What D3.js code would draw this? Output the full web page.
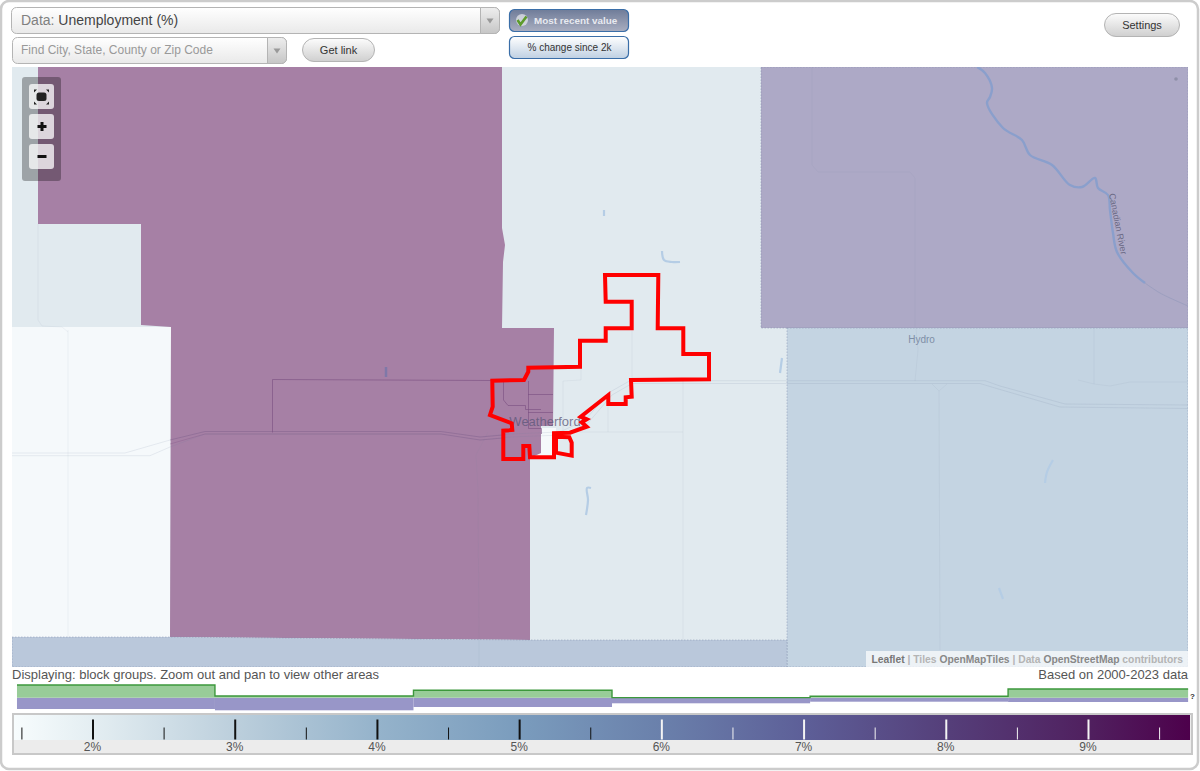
<!DOCTYPE html>
<html>
<head>
<meta charset="utf-8">
<title>Unemployment (%)</title>
<script src="https://cdn.jsdelivr.net/npm/d3@7"></script>
<style>
    html, body { margin: 0; padding: 0; background: #fff; }
    svg { display: block; }
    text { font-family: "Liberation Sans", Arial, sans-serif; }
</style>
</head>
<body>
<div id="chart"></div>
<script>
// legend colour ramp
const rampValues = [1.45, 2, 3, 4, 5, 6, 7, 8, 9, 9.73];
const rampColors = ["#f7fcfd", "#e4eef2", "#bccfdc", "#95b3cb", "#7a9cbd", "#6a80ab", "#5d5f98", "#553f7a", "#50205f", "#4d004b"];

const majorTicks = [2, 3, 4, 5, 6, 7, 8, 9];
const minorTicks = [1.5, 2.5, 3.5, 4.5, 5.5, 6.5, 7.5, 8.5, 9.5];

// distribution strip above the legend
const binEdges = [1.469, 2.861, 4.257, 5.653, 7.046, 8.438, 9.704];
const greenBins = [12.7, 1.7, 7.4, 0.1, 1.4, 8.7];
const purpleBins = [11.3, 12.6, 9.3, 5.6, 4.0, 4.3];

// block groups: unemployment % and outline in map grid units
const purpleValue = 9.73, lightValue = 2.85, whiteValue = 1.8, lavenderValue = 7.4, blueValue = 4.45, southValue = 5.4;
const lightArea = [[12, 67], [1188, 67], [1188, 667], [12, 667]];
const whiteArea = [[12, 327], [171, 327], [170, 637], [12, 637]];
const whitePatch = [[541, 428], [556, 428], [555, 457], [530, 458], [541, 453]];
const purpleArea = [[38, 67], [502, 67], [502, 228], [505, 245], [503, 262], [502, 328], [554, 328], [553, 426], [541, 426], [541, 453], [530, 458], [530, 640], [170, 637], [171, 327], [141, 325], [141, 224], [38, 224]];
const lavenderArea = [[761, 67], [1188, 67], [1188, 328], [761, 328]];
const blueArea = [[787, 328], [1188, 328], [1188, 667], [787, 667]];
const southArea = [[12, 637], [170, 637], [530, 640], [787, 640], [787, 667], [12, 667]];

const cityOutline = [[605, 275], [658.3, 275], [657.7, 328.3], [683.3, 328.3], [683.3, 354], [709, 354], [709, 379.3], [631, 380], [631.7, 396.7], [625.7, 397.3], [625.7, 404], [608.3, 404], [608.3, 395], [580.7, 416.7], [586.7, 419.3], [581.7, 422.3], [586.7, 426.7], [570, 432.7], [554, 433.3], [554, 457.3], [530, 457.3], [529.3, 446], [523.3, 446], [523.3, 459], [503.3, 459], [503.3, 430.7], [512.3, 430], [511.7, 423.3], [490, 415], [492.7, 406.7], [492.3, 380.7], [524, 380], [528.3, 371.7], [528.3, 367.7], [580, 366.7], [580, 340.7], [605.7, 340.7], [605.7, 328.3], [631.7, 328.3], [631.7, 301.7], [605.7, 301.7]];
const cityOutlineSouth = [[556, 436.7], [569.3, 437.3], [571.7, 442.7], [571.7, 455.7], [556, 452.7]];

// basemap lines
const blockLines = [
    [[272.5, 432.5], [272.5, 379.5], [491, 380.5]],
    [[503.5, 381], [503.5, 400], [508, 405.5], [525.5, 405.5], [525.5, 409.5], [541, 409.5]],
    [[528.5, 381], [528.5, 428.5], [541.5, 428.5], [541.5, 434]],
    [[528, 394.5], [553, 394.5]],
    [[528, 412.5], [553, 412.5]]
];
const highwayNorth = [[12, 453], [125, 453], [170, 440], [205, 431.5], [441, 431.5], [480, 437], [510, 434], [560, 432], [585, 420], [610, 392], [630, 380.7], [985, 380.7], [1000, 386], [1065, 404], [1188, 405]];
const highwaySouth = [[12, 455.7], [150, 455.7], [170, 447], [205, 434], [441, 434], [480, 440], [510, 437], [562, 435], [588, 423], [612, 395], [632, 383.5], [980, 383.5], [995, 388], [1060, 407], [1188, 408.5]];
const highwayPurpleNorth = [[170, 440], [205, 431.5], [441, 431.5], [480, 437], [503, 435]];
const highwayPurpleSouth = [[170, 444], [205, 434], [441, 434], [480, 440], [503, 438]];
const minorRoads = [
    [[68, 330], [68, 637]],
    [[38, 224], [38, 320], [42, 326], [62, 327], [68, 332]],
    [[488, 432], [476, 455], [478, 490], [479, 640], [479, 667]],
    [[812, 67], [812, 165], [818, 172], [910, 172], [915, 178], [915, 327]],
    [[916, 328], [918, 350], [915, 381]],
    [[932, 384], [939, 391], [947, 384]],
    [[939, 391], [940, 650]],
    [[1094, 328], [1094, 384]],
    [[1078, 380], [1094, 384], [1110, 386], [1130, 382], [1188, 382]],
    [[683, 381], [683, 640]],
    [[580, 432], [683, 432]],
    [[608, 404], [608, 432]],
    [[632, 300], [632, 380]],
    [[581, 367], [581, 380], [563, 381], [563, 430]]
];

const canadianRiver = [[977, 67], [985, 73], [992, 88], [990, 97], [987, 103], [1003, 128], [1022, 140], [1030, 155], [1052, 165], [1070, 185], [1082, 187], [1095, 178], [1098, 188], [1108, 195], [1110, 210], [1113, 233], [1117, 252], [1133, 273], [1145, 283]];
const riverTail = [[1145, 283], [1160, 293], [1188, 306]];
const riverLabelPath = [[1109, 194], [1113, 215], [1124, 270]];
const lakes = [
    [[1053, 460], [1047, 472], [1045, 483]],
    [[999, 588], [1003, 599]],
    [[782, 358], [780, 373]],
    [[591, 488], [587, 488], [588, 500], [586, 515]],
    [[604, 210], [604, 216]],
    [[662, 251], [664, 260], [672, 262], [680, 262]]
];
const pondInPurple = [[386, 367], [386, 377]];

const width = 1200, height = 771;

const svg = d3.select("#chart").append("svg")
    .attr("width", width)
    .attr("height", height);

const defs = svg.append("defs");

function addGradient(id, top, bottom) {
    const g = defs.append("linearGradient").attr("id", id).attr("x1", 0).attr("y1", 0).attr("x2", 0).attr("y2", 1);
    g.append("stop").attr("offset", "0%").attr("stop-color", top);
    g.append("stop").attr("offset", "100%").attr("stop-color", bottom);
}
addGradient("inputFill", "#ffffff", "#e9e9e9");
addGradient("arrowFill", "#eeeeee", "#c6c6c6");
addGradient("pillFill", "#fcfcfc", "#cfcfcf");
addGradient("activeFill", "#6f7c99", "#a9aec0");
addGradient("changeFill", "#ffffff", "#bfd0e2");

defs.append("clipPath").attr("id", "mapClip")
    .append("rect").attr("x", 12).attr("y", 67).attr("width", 1176).attr("height", 600);

// scales
const legendX = d3.scaleLinear().domain([2, 9]).range([92.5, 1088]);
const color = d3.scaleLinear().domain(rampValues).range(rampColors);
const mapX = d3.scaleLinear().domain([12, 1188]).range([12, 1188]);
const mapY = d3.scaleLinear().domain([67, 667]).range([67, 667]);
const stripY = d3.scaleLinear().domain([-13, 13]).range([710.7, 684.7]);

// regions sit at half strength over the pale base map
const shade = v => d3.interpolateRgb(color(v), "#ffffff")(0.5);

const mapLine = d3.line().x(d => mapX(d[0])).y(d => mapY(d[1]));
const closed = d3.line().x(d => mapX(d[0])).y(d => mapY(d[1])).curve(d3.curveLinearClosed);
const waterLine = d3.line().x(d => mapX(d[0])).y(d => mapY(d[1])).curve(d3.curveCatmullRom);

// outer frame
svg.append("rect")
    .attr("x", 1).attr("y", 1).attr("width", 1197).attr("height", 768).attr("rx", 8)
    .attr("fill", "#fff").attr("stroke", "#cccccc").attr("stroke-width", 2.5);

// map
const map = svg.append("g").attr("clip-path", "url(#mapClip)");

const regions = [
    {shape: lightArea, value: lightValue, edge: false},
    {shape: whiteArea, value: whiteValue, edge: false},
    {shape: whitePatch, value: whiteValue, edge: false},
    {shape: purpleArea, value: purpleValue, edge: false},
    {shape: lavenderArea, value: lavenderValue, edge: true},
    {shape: blueArea, value: blueValue, edge: true},
    {shape: southArea, value: southValue, edge: true}
];

map.selectAll(".region")
    .data(regions)
    .enter().append("path")
    .attr("class", "region")
    .attr("d", d => closed(d.shape))
    .attr("fill", d => shade(d.value))
    .attr("stroke", d => d.edge ? "#7f8cab" : "none")
    .attr("stroke-opacity", 0.45)
    .attr("stroke-dasharray", "1.5,1.5");

map.selectAll(".road")
    .data(minorRoads)
    .enter().append("path")
    .attr("class", "road")
    .attr("d", mapLine)
    .attr("fill", "none")
    .attr("stroke", "#6d7d99")
    .attr("stroke-opacity", 0.08);

map.selectAll(".highway")
    .data([highwayNorth, highwaySouth])
    .enter().append("path")
    .attr("class", "highway")
    .attr("d", mapLine)
    .attr("fill", "none")
    .attr("stroke", "#6d7d99")
    .attr("stroke-opacity", 0.13);

map.selectAll(".highwayPurple")
    .data([highwayPurpleNorth, highwayPurpleSouth])
    .enter().append("path")
    .attr("class", "highwayPurple")
    .attr("d", mapLine)
    .attr("fill", "none")
    .attr("stroke", "#7a4f80")
    .attr("stroke-opacity", 0.3);

map.selectAll(".block")
    .data(blockLines)
    .enter().append("path")
    .attr("class", "block")
    .attr("d", mapLine)
    .attr("fill", "none")
    .attr("stroke", "#7a4f80")
    .attr("stroke-opacity", 0.6);

// water
map.append("path").datum(canadianRiver)
    .attr("d", waterLine).attr("fill", "none").attr("stroke", "#8a9fcc").attr("stroke-width", 2.4);
map.append("path").datum(riverTail)
    .attr("d", waterLine).attr("fill", "none").attr("stroke", "#9c9fbf").attr("stroke-width", 1);
map.selectAll(".lake")
    .data(lakes)
    .enter().append("path")
    .attr("class", "lake")
    .attr("d", waterLine)
    .attr("fill", "none")
    .attr("stroke", "#b5cde5")
    .attr("stroke-width", 2.2);
map.append("path").datum(pondInPurple)
    .attr("d", mapLine).attr("fill", "none").attr("stroke", "#7f78a8").attr("stroke-width", 2.5);
map.append("circle")
    .attr("cx", mapX(1176)).attr("cy", mapY(79)).attr("r", 1.8).attr("fill", "#8f8fa8");

// place names
defs.append("path").attr("id", "riverPath").attr("d", mapLine(riverLabelPath));
map.append("text")
    .attr("font-size", 9)
    .attr("fill", "#5d5d78")
    .attr("fill-opacity", 0.85)
    .append("textPath")
    .attr("href", "#riverPath")
    .text("Canadian River");
map.append("text")
    .attr("x", mapX(545)).attr("y", mapY(426))
    .attr("text-anchor", "middle")
    .attr("font-size", 13)
    .attr("fill", "#5a5578")
    .attr("fill-opacity", 0.75)
    .text("Weatherford");
map.append("text")
    .attr("x", mapX(921.5)).attr("y", mapY(343))
    .attr("text-anchor", "middle")
    .attr("font-size", 10)
    .attr("fill", "#7f8ea6")
    .text("Hydro");

// city boundary
map.selectAll(".city")
    .data([cityOutline, cityOutlineSouth])
    .enter().append("path")
    .attr("class", "city")
    .attr("d", closed)
    .attr("fill", "none")
    .attr("stroke", "#ff0000")
    .attr("stroke-width", 4);

// zoom buttons
svg.append("rect")
    .attr("x", 22).attr("y", 77).attr("width", 39).attr("height", 104).attr("rx", 3)
    .attr("fill", "#000").attr("fill-opacity", 0.3);

const buttonTops = [84, 114, 144];
svg.selectAll(".zoomButton")
    .data(buttonTops)
    .enter().append("rect")
    .attr("class", "zoomButton")
    .attr("x", 29).attr("y", d => d).attr("width", 25).attr("height", 25).attr("rx", 3)
    .attr("fill", "#fff").attr("fill-opacity", 0.75);

svg.append("rect").attr("x", 36.5).attr("y", 92.5).attr("width", 10).attr("height", 8.5).attr("rx", 2.5).attr("fill", "#222");
svg.append("path")
    .attr("d", "M34 89.5h3l-3 3zM49 89.5h-3l3 3zM34 104.5h3l-3-3zM49 104.5h-3l3-3z")
    .attr("fill", "#222");
svg.append("path").attr("d", "M37.5 126.5h9M42 122v9").attr("stroke", "#111").attr("stroke-width", 3);
svg.append("path").attr("d", "M37.5 156.5h9").attr("stroke", "#111").attr("stroke-width", 3);

// attribution
svg.append("rect")
    .attr("x", 866).attr("y", 651).attr("width", 322).attr("height", 16)
    .attr("fill", "#fff").attr("fill-opacity", 0.7);
const attribution = svg.append("text")
    .attr("x", 1183).attr("y", 663)
    .attr("text-anchor", "end")
    .attr("font-size", 10.3)
    .attr("font-weight", "bold");
const attributionParts = [
    ["Leaflet", "#777777"], [" | Tiles ", "#b4b4b4"], ["OpenMapTiles", "#888888"],
    [" | Data ", "#b4b4b4"], ["OpenStreetMap", "#888888"], [" contributors", "#b4b4b4"]
];
attribution.selectAll("tspan")
    .data(attributionParts)
    .enter().append("tspan")
    .attr("xml:space", "preserve")
    .attr("fill", d => d[1])
    .text(d => d[0]);

// top controls
function dropdown(x, y, w, h, arrowW) {
    svg.append("rect").attr("x", x).attr("y", y).attr("width", w).attr("height", h).attr("rx", 5)
        .attr("fill", "url(#inputFill)").attr("stroke", "#b4b4b4");
    svg.append("path")
        .attr("d", `M${x + w - arrowW} ${y}h${arrowW - 5}a5 5 0 0 1 5 5v${h - 10}a5 5 0 0 1 -5 5h-${arrowW - 5}z`)
        .attr("fill", "url(#arrowFill)").attr("stroke", "#b4b4b4");
    svg.append("path")
        .attr("d", `M${x + w - arrowW / 2 - 3.5} ${y + h / 2 - 2}h7l-3.5 5z`)
        .attr("fill", "#999");
}
dropdown(11.5, 7.5, 488, 26, 19);
dropdown(12.5, 37.5, 274, 26, 19);

const dataLabel = svg.append("text").attr("x", 21).attr("y", 25).attr("font-size", 14);
dataLabel.append("tspan").attr("fill", "#808080").text("Data: ");
dataLabel.append("tspan").attr("fill", "#444").text("Unemployment (%)");

svg.append("text").attr("x", 21).attr("y", 54).attr("font-size", 12).attr("fill", "#999").text("Find City, State, County or Zip Code");

function pill(x, y, w, h, label) {
    svg.append("rect").attr("x", x).attr("y", y).attr("width", w).attr("height", h).attr("rx", h / 2)
        .attr("fill", "url(#pillFill)").attr("stroke", "#b4b4b4");
    svg.append("text").attr("x", x + w / 2).attr("y", y + h / 2 + 3.5).attr("text-anchor", "middle")
        .attr("font-size", 11).attr("fill", "#333").text(label);
}
pill(302.5, 38.5, 72, 23, "Get link");
pill(1104.5, 13.5, 75, 23, "Settings");

svg.append("rect").attr("x", 509.5).attr("y", 9.5).attr("width", 119).attr("height", 22).attr("rx", 5)
    .attr("fill", "url(#activeFill)").attr("stroke", "#3a6ea8").attr("stroke-width", 1.2);
svg.append("circle").attr("cx", 522).attr("cy", 20).attr("r", 6).attr("fill", "#e3e6ea").attr("fill-opacity", 0.75);
svg.append("path").attr("d", "M517.5 20l3 4.5l6-8").attr("fill", "none").attr("stroke", "#5d9b2c").attr("stroke-width", 2.6);
svg.append("text").attr("x", 534).attr("y", 23.5).attr("font-size", 9.85).attr("font-weight", "bold")
    .attr("fill", "#e8eaf0").text("Most recent value");

svg.append("rect").attr("x", 509.5).attr("y", 36.5).attr("width", 119).attr("height", 22).attr("rx", 5)
    .attr("fill", "url(#changeFill)").attr("stroke", "#3a6ea8").attr("stroke-width", 1.2);
svg.append("text").attr("x", 569.5).attr("y", 50.5).attr("text-anchor", "middle").attr("font-size", 10)
    .attr("fill", "#333").text("% change since 2k");

// notes under the map
svg.append("text").attr("x", 12).attr("y", 679).attr("font-size", 13).attr("fill", "#555")
    .text("Displaying: block groups. Zoom out and pan to view other areas");
svg.append("text").attr("x", 1188).attr("y", 679).attr("text-anchor", "end").attr("font-size", 13).attr("fill", "#555")
    .text("Based on 2000-2023 data");

// distribution strip
const bins = binEdges.slice(0, -1).map((edge, i) => ({
    x0: edge, x1: binEdges[i + 1], green: greenBins[i], purple: purpleBins[i]
}));

svg.selectAll(".purpleBin")
    .data(bins)
    .enter().append("rect")
    .attr("class", "purpleBin")
    .attr("x", d => legendX(d.x0))
    .attr("y", stripY(0))
    .attr("width", d => legendX(d.x1) - legendX(d.x0))
    .attr("height", d => stripY(-d.purple) - stripY(0))
    .attr("fill", "#9896c8");

svg.selectAll(".greenBin")
    .data(bins)
    .enter().append("rect")
    .attr("class", "greenBin")
    .attr("x", d => legendX(d.x0))
    .attr("y", d => stripY(d.green))
    .attr("width", d => legendX(d.x1) - legendX(d.x0))
    .attr("height", d => stripY(0) - stripY(d.green))
    .attr("fill", "#98cc98");

const greenStep = d3.line()
    .x(d => legendX(d[0]))
    .y(d => stripY(d[1]))
    .curve(d3.curveStepAfter);
svg.append("path")
    .datum(binEdges.map((edge, i) => [edge, greenBins[Math.min(i, greenBins.length - 1)]]))
    .attr("d", greenStep)
    .attr("fill", "none")
    .attr("stroke", "#3c983c")
    .attr("stroke-width", 1.4);

svg.append("text").attr("x", 1190).attr("y", 699).attr("font-size", 8).attr("font-weight", "bold").attr("fill", "#333").text("?");

// legend
const rampGradient = defs.append("linearGradient").attr("id", "ramp")
    .attr("gradientUnits", "userSpaceOnUse")
    .attr("x1", legendX(rampValues[0])).attr("x2", legendX(rampValues[rampValues.length - 1]))
    .attr("y1", 0).attr("y2", 0);
rampGradient.selectAll("stop")
    .data(rampValues)
    .enter().append("stop")
    .attr("offset", d => (d - rampValues[0]) / (rampValues[rampValues.length - 1] - rampValues[0]))
    .attr("stop-color", d => color(d));

svg.append("rect").attr("x", 13).attr("y", 714).attr("width", 1179).attr("height", 40)
    .attr("fill", "#ececec").attr("stroke", "#c8c8c8").attr("stroke-width", 2);
svg.append("rect").attr("x", 14).attr("y", 715).attr("width", 1176).attr("height", 25)
    .attr("fill", "url(#ramp)");

const barBase = 739.5;

const majorAxis = svg.append("g")
    .attr("transform", `translate(0,${barBase})`)
    .call(d3.axisTop(legendX).tickValues(majorTicks).tickSize(20).tickFormat(""));
majorAxis.select(".domain").remove();
majorAxis.selectAll("line")
    .attr("stroke-width", 2)
    .attr("stroke", d => d >= 6 ? "#f4f4f4" : "#111");

const minorAxis = svg.append("g")
    .attr("transform", `translate(0,${barBase})`)
    .call(d3.axisTop(legendX).tickValues(minorTicks).tickSize(12).tickFormat(""));
minorAxis.select(".domain").remove();
minorAxis.selectAll("line")
    .attr("stroke-width", 1)
    .attr("stroke", d => d >= 6 ? "#f4f4f4" : "#111");

const labelAxis = svg.append("g")
    .attr("transform", `translate(-0.5,${barBase})`)
    .call(d3.axisBottom(legendX).tickValues(majorTicks).tickSize(0).tickPadding(3).tickFormat(d => d + "%"));
labelAxis.select(".domain").remove();
labelAxis.selectAll("text")
    .style("font-family", '"Liberation Sans", Arial, sans-serif')
    .attr("font-size", 12)
    .attr("fill", "#555");
</script>
</body>
</html>
